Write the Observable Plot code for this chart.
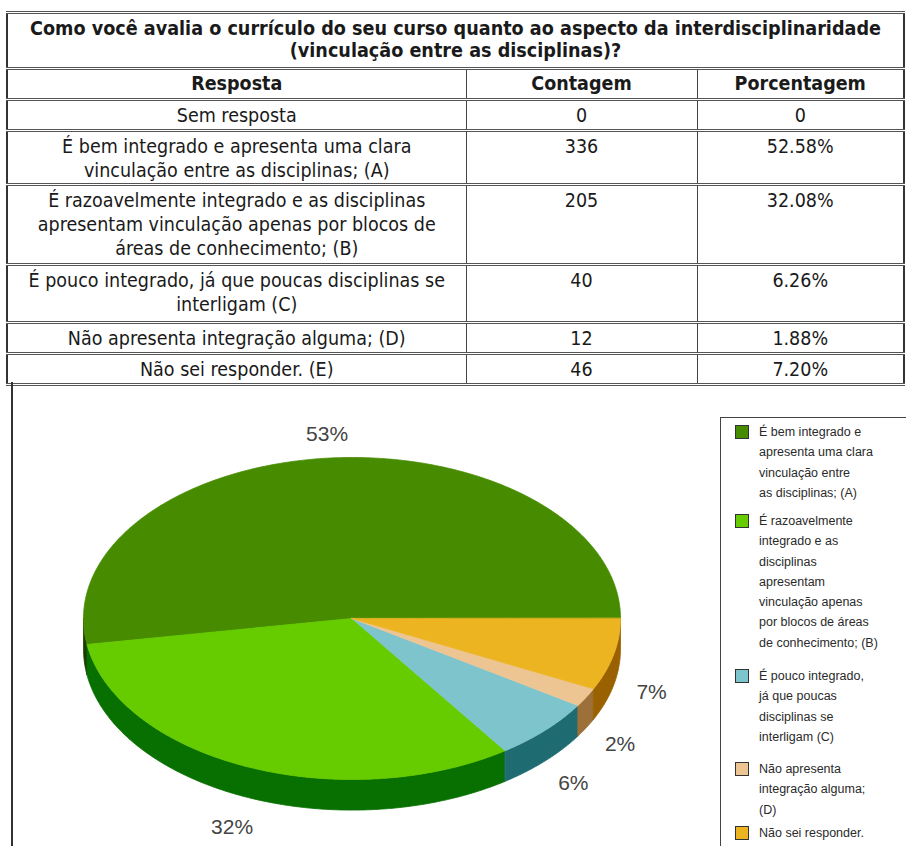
<!DOCTYPE html>
<html><head><meta charset="utf-8">
<script src="https://cdn.jsdelivr.net/npm/d3@7"></script>
<script src="https://cdn.jsdelivr.net/npm/@observablehq/plot@0.6"></script>
<style>
html,body{margin:0;padding:0;background:#fff}
body{width:906px;height:846px;overflow:hidden;position:relative}
#tbl{position:absolute;left:6px;top:11px;width:899px;border-collapse:collapse;color:#1a1a1a;
 font-family:"DejaVu Sans Condensed","DejaVu Sans",sans-serif;font-stretch:condensed;font-size:19.5px;line-height:24px}
#tbl td,#tbl th{border-left:1px solid #444;border-right:1px solid #444;border-top:3px double #555;border-bottom:3px double #555;
 text-align:center;vertical-align:top;padding:3px 4px 0 4px;box-sizing:border-box}
#tbl th{font-weight:bold;padding-top:2px}
#tbl .title{font-size:19.6px;line-height:22px;padding:4px 4px 0 4px}
#tbl{border:2px solid #333}
#chartbox{position:absolute;left:11px;top:382px;width:900px;height:470px;border-left:2px solid #333}
#plot{position:absolute;left:14px;top:386px}
#legend{position:absolute;left:720px;top:417px;width:200px;height:440px;border-left:1px solid #444;border-top:1px solid #444;
 font-family:"Liberation Sans",Arial,sans-serif;font-size:12.5px;line-height:20.3px;color:#2a2a2a}
#legend .item{position:absolute;left:38px}
#legend .sw{position:absolute;left:-24px;top:3px;width:12px;height:12px;border:1px solid #333}
</style></head>
<body>
<table id="tbl"></table>
<div id="chartbox"></div>
<div id="plot"></div>
<div id="legend"></div>
<script>
const question = ["Como você avalia o currículo do seu curso quanto ao aspecto da interdisciplinaridade", "(vinculação entre as disciplinas)?"];
const headers = ["Resposta", "Contagem", "Porcentagem"];
const categories = [
  "Sem resposta",
  "É bem integrado e apresenta uma clara vinculação entre as disciplinas; (A)",
  "É razoavelmente integrado e as disciplinas apresentam vinculação apenas por blocos de áreas de conhecimento; (B)",
  "É pouco integrado, já que poucas disciplinas se interligam (C)",
  "Não apresenta integração alguma; (D)",
  "Não sei responder. (E)"
];
const tableLines = [
  ["Sem resposta"],
  ["É bem integrado e apresenta uma clara", "vinculação entre as disciplinas; (A)"],
  ["É razoavelmente integrado e as disciplinas", "apresentam vinculação apenas por blocos de", "áreas de conhecimento; (B)"],
  ["É pouco integrado, já que poucas disciplinas se", "interligam (C)"],
  ["Não apresenta integração alguma; (D)"],
  ["Não sei responder. (E)"]
];
const counts = [0, 336, 205, 40, 12, 46];
const percents = ["0", "52.58%", "32.08%", "6.26%", "1.88%", "7.20%"];
const legendLines = [
  null,
  ["É bem integrado e", "apresenta uma clara", "vinculação entre", "as disciplinas; (A)"],
  ["É razoavelmente", "integrado e as", "disciplinas", "apresentam", "vinculação apenas", "por blocos de áreas", "de conhecimento; (B)"],
  ["É pouco integrado,", "já que poucas", "disciplinas se", "interligam (C)"],
  ["Não apresenta", "integração alguma;", "(D)"],
  ["Não sei responder."]
];
const topColors  = [null, "#478c00", "#66cc00", "#7ec4cc", "#edc593", "#edb422"];
const sideColors = [null, "#1e3c00", "#087000", "#1e6b72", "#9c7038", "#9a6100"];

// ---- table (row heights are layout only)
const rowHeights = [31, 52, 80, 58, 31, 31];
const tbl = document.getElementById("tbl");
let html = `<tr style="height:56px"><th colspan="3" class="title">${question.join("<br>")}</th></tr>`;
html += `<tr style="height:31px">${headers.map((h,i)=>`<th style="width:${[459,231,207][i]}px">${h}</th>`).join("")}</tr>`;
categories.forEach((c,i)=>{
  html += `<tr style="height:${rowHeights[i]}px"><td>${tableLines[i].join("<br>")}</td><td>${counts[i]}</td><td>${percents[i]}</td></tr>`;
});
tbl.innerHTML = html;

// ---- pie slices
const total = d3.sum(counts);
let acc = 0;
const slices = [];
counts.forEach((c,i)=>{
  if (c <= 0) return;
  const a0 = acc/total*2*Math.PI; acc += c; const a1 = acc/total*2*Math.PI;
  slices.push({i, c, a0, a1, pct: c/total*100});
});
const depth = 0.19; // in ellipse y-units
const step = Math.PI/360;
function arc(a0, a1, dy=0){
  const pts = []; const n = Math.max(2, Math.ceil((a1-a0)/step));
  for (let k=0;k<=n;k++){ const a=a0+(a1-a0)*k/n; pts.push({x:Math.cos(a), y:Math.sin(a)+dy}); }
  return pts;
}
const marks = [];
for (const s of slices){
  const lo = Math.max(s.a0, Math.PI), hi = Math.min(s.a1, 2*Math.PI);
  if (hi <= lo) continue;
  const pts = arc(lo, hi).concat(arc(lo, hi, -depth).reverse());
  marks.push(Plot.line(pts, {x:"x", y:"y", fill: sideColors[s.i], stroke: sideColors[s.i], strokeWidth:0.8, curve:"linear-closed"}));
}
for (const s of slices){
  const pts = [{x:0,y:0}].concat(arc(s.a0, s.a1));
  marks.push(Plot.line(pts, {x:"x", y:"y", fill: topColors[s.i], stroke: topColors[s.i], strokeWidth:0.8, curve:"linear-closed"}));
}
const labels = slices.map(s=>{
  const m = (s.a0+s.a1)/2, r = 1.145;
  const sy = Math.sin(m);
  const off = sy < 0 ? depth + 0.06*(-sy) : 0;
  return {x: r*Math.cos(m), y: r*sy - off, text: Math.round(s.pct) + "%"};
});
marks.push(Plot.text(labels, {x:"x", y:"y", text:"text", fontSize:21, fill:"#444", fontFamily:"Liberation Sans, Arial, sans-serif", textAnchor:"middle", lineAnchor:"middle"}));

const chart = Plot.plot({
  width: 700, height: 460, margin: 0,
  x: {domain:[-1,1], range:[69,606], axis:null},
  y: {domain:[-1,1], range:[393,71], axis:null},
  marks
});
document.getElementById("plot").appendChild(chart);

// ---- legend
const legendTops = [null, 4, 93, 248, 341, 405];
const lg = document.getElementById("legend");
legendLines.forEach((lines,i)=>{
  if (!lines) return;
  const d = document.createElement("div");
  d.className = "item"; d.style.top = legendTops[i] + "px";
  d.innerHTML = `<span class="sw" style="background:${topColors[i]}"></span>${lines.join("<br>")}`;
  lg.appendChild(d);
});
</script>
</body></html>
